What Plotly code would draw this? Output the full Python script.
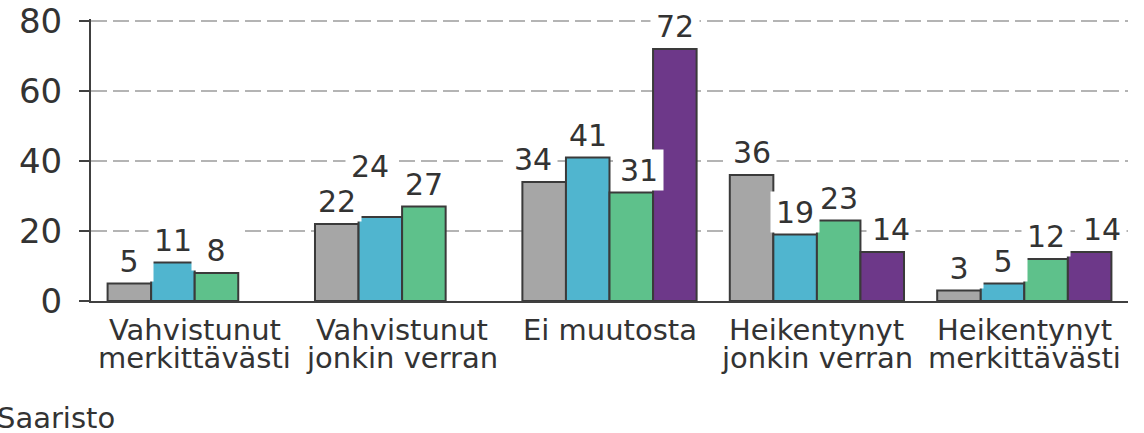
import plotly.graph_objects as go

categories = ["Vahvistunut<br>merkittävästi", "Vahvistunut<br>jonkin verran", "Ei muutosta",
              "Heikentynyt<br>jonkin verran", "Heikentynyt<br>merkittävästi"]
series_names = ["Sarja 1", "Sarja 2", "Sarja 3", "Sarja 4"]
s1 = [5, 22, 34, 36, 3]
s2 = [11, 24, 41, 19, 5]
s3 = [8, 27, 31, 23, 12]
s4 = [None, None, 72, 14, 14]
footer = "Saaristo"
y_ticks = [0, 20, 40, 60, 80]

colors = ["#A6A6A6", "#50B5CF", "#5EC18B", "#6D3889"]
series = [s1, s2, s3, s4]

# label nudges in pixels (collision avoidance in original): (series, category) -> (dx, dy)
nudges = {(0, 2): (-11, 0), (2, 2): (8, 0), (1, 1): (-10, 28), (3, 3): (9, 0), (3, 4): (12, 0)}

FONT = "DejaVu Sans, Verdana, sans-serif"
TXT = "#333333"
bargap = 0.16
n = len(series)
bw = (1 - bargap) / n

fig = go.Figure()
xs = list(range(len(categories)))
for i, (name, vals) in enumerate(zip(series_names, series)):
    fig.add_trace(go.Bar(
        x=xs, y=vals, name=name,
        marker=dict(color=colors[i], line=dict(color="#3a3a3a", width=2)),
        showlegend=False, hoverinfo="skip",
    ))

annotations = []
for i, vals in enumerate(series):
    for j, v in enumerate(vals):
        if v is None:
            continue
        dx, dy = nudges.get((i, j), (0, 0))
        annotations.append(dict(
            x=j + (i - (n - 1) / 2) * bw, y=v, xref="x", yref="y",
            text=str(v), showarrow=False, yanchor="bottom", xanchor="center",
            xshift=dx, yshift=dy + 2, bgcolor="white", width=42, height=34, borderpad=3,
            font=dict(family=FONT, size=30, color=TXT),
        ))

for j, c in enumerate(categories):
    lines = c.split("<br>")
    for k, line in enumerate(lines):
        annotations.append(dict(
            x=j, y=0, xref="x", yref="paper", text=line, showarrow=False,
            yanchor="top", xanchor="center", yshift=-10 - 28 * k,
            font=dict(family=FONT, size=29, color=TXT),
        ))

annotations.append(dict(
    x=-0.093, y=0, xref="paper", yref="paper", text=footer, showarrow=False,
    xanchor="left", yanchor="top", yshift=-98,
    font=dict(family=FONT, size=29, color=TXT),
))

fig.update_layout(
    width=1144, height=433,
    margin=dict(l=91, r=16, t=19, b=132),
    barmode="group", bargap=bargap, bargroupgap=0,
    plot_bgcolor="white", paper_bgcolor="white",
    annotations=annotations,
    font=dict(family=FONT, color=TXT),
)
fig.update_xaxes(
    range=[-0.5, len(categories) - 0.5], showticklabels=False, showgrid=False,
    showline=True, linecolor="#404040", linewidth=2, ticks="", zeroline=False,
    automargin=False,
)
fig.update_yaxes(
    range=[0, 80.6], tickvals=y_ticks, showgrid=True, gridcolor="#B4B4B4", gridwidth=2,
    griddash="16px,6px", showline=True, linecolor="#404040", linewidth=2,
    ticks="outside", ticklen=10, tickwidth=2, tickcolor="#404040",
    tickfont=dict(family=FONT, size=34, color=TXT), zeroline=False,
    ticklabelstandoff=10, automargin=False,
)

fig.write_html(
    "out.html",
    config={"displayModeBar": False, "staticPlot": True},
    post_script="document.body.style.margin='0px';document.body.style.overflow='hidden';",
)
